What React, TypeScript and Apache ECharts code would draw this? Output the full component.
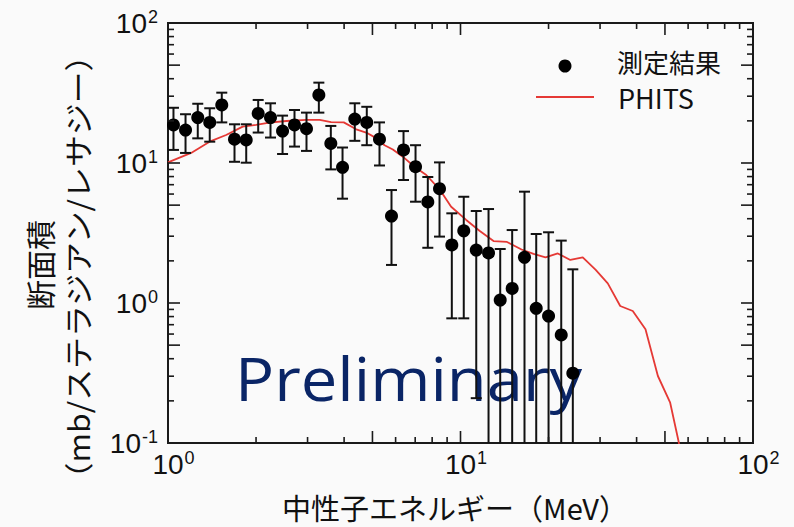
import React, { useEffect, useRef } from "react";
import * as echarts from "echarts";

// Measured cross sections (mb/sr/lethargy) vs neutron energy (MeV)
const energy = [1.044, 1.148, 1.264, 1.389, 1.527, 1.688, 1.851, 2.034, 2.241, 2.464, 2.707, 2.975, 3.279, 3.603, 3.951, 4.351, 4.782, 5.285, 5.809, 6.386, 7.019, 7.731, 8.477, 9.339, 10.26, 11.32, 12.47, 13.67, 15.02, 16.55, 18.15, 20.0, 22.1, 24.21];
const measured = [18.7, 17.2, 21.1, 19.5, 26.0, 14.8, 14.6, 22.6, 21.1, 16.9, 18.7, 17.6, 30.6, 13.8, 9.31, 20.6, 19.5, 14.8, 4.18, 12.4, 9.41, 5.27, 6.55, 2.6, 3.28, 2.39, 2.28, 1.05, 1.27, 2.12, 0.917, 0.807, 0.591, 0.315];
const errHigh = [24.8, 22.3, 26.5, 24.6, 31.8, 18.9, 18.9, 28.2, 26.7, 21.8, 23.9, 22.9, 37.5, 18.4, 12.9, 26.7, 25.2, 19.5, 6.41, 16.9, 13.4, 7.94, 10.1, 4.37, 5.74, 4.54, 4.69, 2.43, 3.32, 6.24, 3.11, 3.2, 2.79, 1.74];
const errLow = [12.4, 11.8, 15.0, 14.2, 19.5, 10.2, 10.05, 16.5, 15.2, 11.6, 13.1, 12.2, 22.9, 9.0, 5.56, 14.4, 13.4, 9.6, 1.87, 7.56, 5.29, 2.48, 2.98, 0.777, 0.777, 0.209, 0.1, 0.1, 0.1, 0.1, 0.1, 0.1, 0.1, 0.1];

// PHITS calculation
const phitsEnergy = [1.0, 1.2, 1.387, 1.58, 1.8, 2.0, 2.22, 2.54, 2.97, 3.3, 3.61, 3.99, 4.4, 4.76, 5.08, 5.5, 5.87, 6.35, 6.96, 7.64, 8.48, 9.29, 10.46, 11.61, 12.97, 14.42, 16.17, 17.77, 19.53, 21.51, 23.74, 26.18, 28.94, 31.88, 35.16, 38.81, 42.9, 47.3, 52.1, 55.7, 56.3];
const phitsValue = [10.1, 11.8, 14.2, 15.85, 18.2, 18.7, 19.4, 19.95, 20.3, 20.3, 19.6, 19.5, 17.4, 16.5, 15.3, 13.4, 12.5, 11.1, 9.41, 8.21, 6.49, 4.87, 3.92, 3.28, 2.77, 2.73, 2.41, 2.24, 2.12, 2.26, 2.03, 2.12, 1.73, 1.38, 0.952, 0.877, 0.649, 0.301, 0.194, 0.102, 0.09];

// Axis ranges and ticks
const xMin = 1;
const xMax = 100;
const yMin = 0.1;
const yMax = 100;
const tickMultipliers = [1, 2, 3, 4, 5, 6, 7, 8, 9];
const xDecades = [1, 10];
const yDecades = [0.1, 1, 10];

const seriesNames = ["測定結果", "PHITS"];
const xTitle = "中性子エネルギー（MeV）";
const yTitle1 = "断面積";
const yTitle2 = "（mb/ステラジアン/レサジー）";
const watermark = "Preliminary";

const xTickValues = xDecades.flatMap((d) => tickMultipliers.map((m) => d * m)).filter((v) => v > xMin);
const yTickValues = yDecades.flatMap((d) => tickMultipliers.map((m) => d * m)).filter((v) => v > yMin);

const AX = "#1a1a1a";
const LABEL_FONT = "'Liberation Sans', Arial, sans-serif";
const JP_FONT = "'Noto Sans CJK JP', sans-serif";

const isMajor = (v: number) => {
  const e = Math.floor(Math.log10(v) + 1e-9);
  const m = Math.round(v / Math.pow(10, e));
  return m === 1 || m === 5;
};

export default function App() {
  const ref = useRef<HTMLDivElement>(null);
  useEffect(() => {
    if (!ref.current) return;
    const chart = echarts.init(ref.current, null, { renderer: "svg" });

    const richBase = {
      b: { fontSize: 28, fontFamily: LABEL_FONT, color: "#111", lineHeight: 30 },
      s: { fontSize: 18, fontFamily: LABEL_FONT, color: "#111", verticalAlign: "top" as const, lineHeight: 30, padding: [0, 0, 0, 1] },
      h: { fontSize: 18, fontFamily: LABEL_FONT, color: "transparent", lineHeight: 30, padding: [0, 1, 0, 0] },
    };

    const tickLine = (x1: number, y1: number, x2: number, y2: number) => ({
      type: "line",
      shape: { x1, y1, x2, y2 },
      style: { stroke: AX, lineWidth: 1.6 },
    });

    const option: any = {
      animation: false,
      backgroundColor: "#fafafa",
      grid: {
        left: 168,
        right: 41,
        top: 23,
        bottom: 84,
        show: true,
        borderColor: AX,
        borderWidth: 2,
        backgroundColor: "transparent",
      },
      xAxis: {
        type: "log",
        logBase: 10,
        min: xMin,
        max: xMax,
        interval: 1,
        axisLine: { show: false },
        axisTick: { show: false },
        splitLine: { show: false },
        axisLabel: {
          margin: 6,
          showMinLabel: true,
          showMaxLabel: true,
          formatter: (v: number) => {
            const e = Math.round(Math.log10(v));
            return `{h|${e}}{b|10}{s|${e}}`;
          },
          rich: richBase,
        },
      },
      yAxis: {
        type: "log",
        logBase: 10,
        min: yMin,
        max: yMax,
        interval: 1,
        axisLine: { show: false },
        axisTick: { show: false },
        splitLine: { show: false },
        axisLabel: {
          margin: 10,
          showMinLabel: true,
          showMaxLabel: true,
          formatter: (v: number) => {
            const e = Math.round(Math.log10(v));
            return `{b|10}{s|${e}}`;
          },
          rich: richBase,
        },
      },
      graphic: [
        {
          type: "text",
          x: 235,
          y: 378,
          z: 1,
          scaleX: 1.085,
          style: {
            text: watermark,
            fontSize: 60,
            fontFamily: "'Open Sans', sans-serif",
            fill: "#0a2566",
            textAlign: "left",
            textVerticalAlign: "middle",
          },
        },
        {
          type: "text",
          x: 39,
          y: 265,
          rotation: Math.PI / 2,
          style: {
            text: yTitle1,
            fontSize: 30,
            fontFamily: JP_FONT,
            fill: "#111",
            textAlign: "center",
            textVerticalAlign: "middle",
          },
        },
        {
          type: "text",
          x: 78,
          y: 267,
          rotation: Math.PI / 2,
          scaleX: 1.1,
          style: {
            text: yTitle2,
            fontSize: 29,
            fontFamily: JP_FONT,
            fill: "#111",
            textAlign: "center",
            textVerticalAlign: "middle",
          },
        },
        {
          type: "text",
          x: 455,
          y: 507,
          style: {
            text: xTitle,
            fontSize: 29,
            fontFamily: JP_FONT,
            fill: "#111",
            textAlign: "center",
            textVerticalAlign: "middle",
          },
        },
        // legend
        {
          type: "circle",
          shape: { cx: 565, cy: 66, r: 6.5 },
          style: { fill: "#000" },
        },
        {
          type: "text",
          x: 617,
          y: 61,
          style: {
            text: seriesNames[0],
            fontSize: 26,
            fontFamily: JP_FONT,
            fill: "#111",
            textAlign: "left",
            textVerticalAlign: "middle",
          },
        },
        {
          type: "line",
          shape: { x1: 536, y1: 97, x2: 594, y2: 97 },
          style: { stroke: "#e53935", lineWidth: 1.8 },
        },
        {
          type: "text",
          x: 618,
          y: 97,
          style: {
            text: seriesNames[1],
            fontSize: 27,
            fontFamily: JP_FONT,
            fill: "#111",
            textAlign: "left",
            textVerticalAlign: "middle",
          },
        },
      ],
      series: [
        {
          name: "xTicks",
          type: "custom",
          silent: true,
          z: 6,
          data: xTickValues.map((v) => [v, 1]),
          renderItem: (params: any, api: any) => {
            const v = api.value(0);
            const cs = params.coordSys;
            const px = api.coord([v, 1])[0];
            const len = isMajor(v) ? 12 : 6;
            const bottom = cs.y + cs.height;
            return {
              type: "group",
              children: [tickLine(px, bottom, px, bottom - len), tickLine(px, cs.y, px, cs.y + len)],
            };
          },
        },
        {
          name: "yTicks",
          type: "custom",
          silent: true,
          z: 6,
          data: yTickValues.map((v) => [2, v]),
          renderItem: (params: any, api: any) => {
            const v = api.value(1);
            const cs = params.coordSys;
            const py = api.coord([2, v])[1];
            const len = isMajor(v) ? 12 : 6;
            const right = cs.x + cs.width;
            return {
              type: "group",
              children: [tickLine(cs.x, py, cs.x + len, py), tickLine(right, py, right - len, py)],
            };
          },
        },
        {
          name: seriesNames[1],
          type: "line",
          z: 3,
          showSymbol: false,
          symbol: "none",
          clip: true,
          data: phitsEnergy.map((e, i) => [e, phitsValue[i]]),
          lineStyle: { color: "#e53935", width: 1.8 },
        },
        {
          name: "errorBars",
          type: "custom",
          z: 4,
          silent: true,
          encode: { x: 0, y: [1, 2] },
          data: energy.map((e, i) => [e, errLow[i], errHigh[i]]),
          renderItem: (params: any, api: any) => {
            const x = api.value(0);
            const lo = api.value(1);
            const hi = api.value(2);
            const top = api.coord([x, hi]);
            const bot = api.coord([x, lo]);
            const cap = 5.5;
            const st = { stroke: "#111", lineWidth: 2 };
            const children: any[] = [
              { type: "line", shape: { x1: top[0], y1: top[1], x2: bot[0], y2: bot[1] }, style: st },
              { type: "line", shape: { x1: top[0] - cap, y1: top[1], x2: top[0] + cap, y2: top[1] }, style: st },
            ];
            if (lo > yMin) {
              children.push({ type: "line", shape: { x1: bot[0] - cap, y1: bot[1], x2: bot[0] + cap, y2: bot[1] }, style: st });
            }
            return { type: "group", children };
          },
        },
        {
          name: seriesNames[0],
          type: "scatter",
          z: 5,
          symbol: "circle",
          symbolSize: 13,
          itemStyle: { color: "#000", opacity: 1 },
          data: energy.map((e, i) => [e, measured[i]]),
        },
      ],
    };

    chart.setOption(option);
    return () => chart.dispose();
  }, []);

  return (
    <div
      ref={ref}
      style={{ position: "absolute", left: 0, top: 0, width: 794, height: 527 }}
    />
  );
}
